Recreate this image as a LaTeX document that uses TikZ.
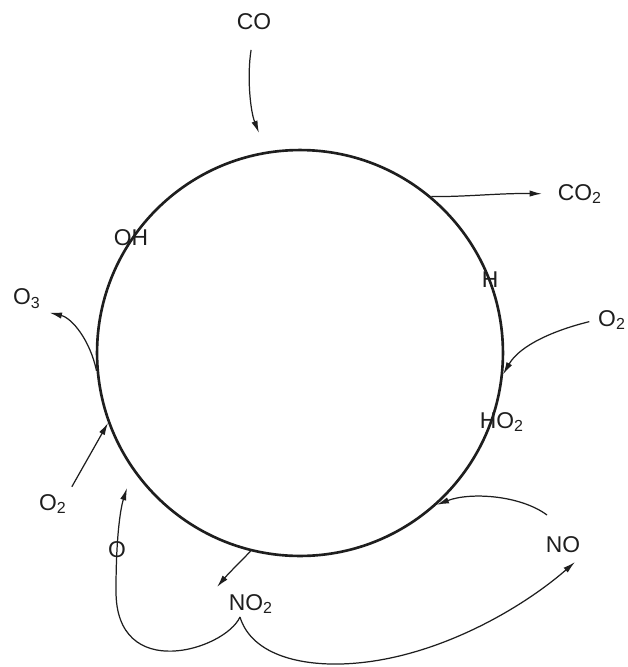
\documentclass[tikz,border=0pt]{standalone}
\usepackage{fontspec}
\setmainfont{Liberation Sans}
\usepackage{tikz}
\usetikzlibrary{arrows.meta, calc}
\definecolor{mydark}{RGB}{30,30,30}
\tikzset{
  ringnode/.style={circle, draw=mydark, line width=1.5pt,
    minimum size=8.12cm, inner sep=0pt},
  species/.style={font=\fontsize{13}{15}\selectfont, inner sep=1pt,
    text=mydark},
  arrow/.style={-{Latex[length=7pt,width=3.6pt]}, line width=0.7pt,
    color=mydark}
}

\begin{document}
\begin{tikzpicture}[x=0.02cm, y=-0.02cm]
  \useasboundingbox (0,0) rectangle (628,667);
  % the cycle
  \node[ringnode] (ring) at (300,353) {};
  % species
  \node[species] (co) at (254,22) {CO};
  \node[species] (co2) at (580,194) {CO\textsubscript{2}};
  \node[species] (oh) at (131,238) {OH};
  \node[species] (h) at (490,280) {H};
  \node[species] (o3) at (27,299) {O\textsubscript{3}};
  \node[species] (o2r) at (612,320) {O\textsubscript{2}};
  \node[species] (ho2) at (502,422) {HO\textsubscript{2}};
  \node[species] (o2l) at (53,504) {O\textsubscript{2}};
  \node[species] (o) at (117,550) {O};
  \node[species] (no2) at (251,604) {NO\textsubscript{2}};
  \node[species] (no) at (563,545) {NO};
  % free ends
  \coordinate (coin) at (259,133);
  \coordinate (oin) at (127,488);
  \coordinate (fork) at (240,617);
  \coordinate (noin) at (575,562);
  \coordinate (noout) at (547,515);
  \coordinate (no2in) at (217,587);
  % in and out of the cycle
  \draw[arrow, shorten <=0.36cm] (co.south) .. controls (247,75) and (250,110) .. (coin);
  \draw[arrow, shorten >=0.28cm] (ring.50) .. controls (465,197) and (500,193) .. (co2.west);
  \draw[arrow, shorten >=0.14cm] (ring.185) .. controls (90,340) and (72,318) .. (o3.south east);
  \draw[arrow, shorten <=0.14cm] (o2r.west) .. controls (555,330) and (520,345) .. (ring.354);
  \draw[arrow, shorten <=0.12cm] (o2l.north east) -- (ring.200);
  \draw[arrow] (noout) .. controls (520,495) and (470,492) .. (ring.312);
  \draw[arrow] (ring.256) .. controls (240,562) and (228,574) .. (no2in);
  % NO2 splits into O and NO
  \draw[arrow] (fork) .. controls (225,650) and (115,684) .. (116,590)
    .. controls (116,540) and (120,510) .. (oin);
  \draw[arrow] (fork) .. controls (250,650) and (290,665) .. (340,664)
    .. controls (430,662) and (520,610) .. (noin);
\end{tikzpicture}
\end{document}
